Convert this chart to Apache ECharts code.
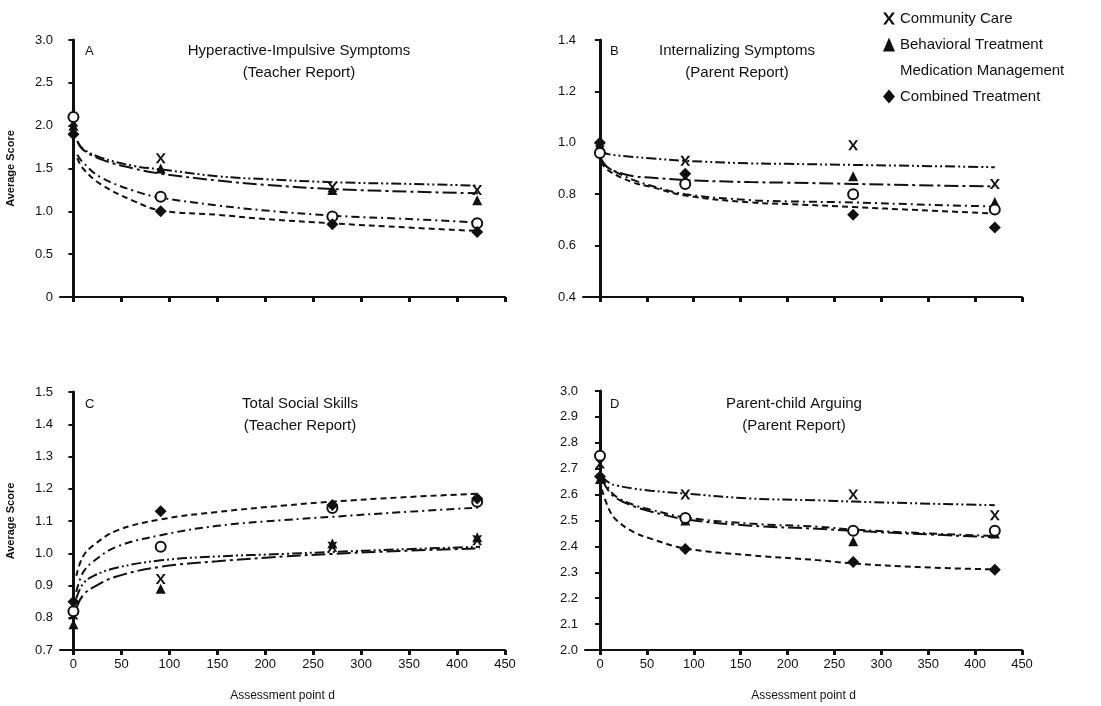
<!DOCTYPE html>
<html>
<head>
<meta charset="utf-8">
<script src="https://cdn.jsdelivr.net/npm/echarts@6/dist/echarts.min.js"></script>
<style>
    html, body { margin: 0; padding: 0; background: #fff; }
    #chart { width: 1101px; height: 706px; }
</style>
</head>
<body>
<div id="chart"></div>
<script>
// groups and assessment days
const groups = ['Community Care', 'Behavioral Treatment', 'Medication Management', 'Combined Treatment']
const days = [0, 91, 270, 421]
const xTicks = [0, 50, 100, 150, 200, 250, 300, 350, 400, 450]

// A: Hyperactive-Impulsive Symptoms (Teacher Report)
const aTicks = [0, 0.5, 1.0, 1.5, 2.0, 2.5, 3.0]
const aCC = [2.05, 1.62, 1.28, 1.25]
const aBT = [2.0, 1.5, 1.25, 1.13]
const aMM = [2.1, 1.17, 0.94, 0.86]
const aCT = [1.9, 1.0, 0.85, 0.76]
const aFitX = [4, 10, 28, 63, 91, 150, 200, 270, 350, 422]
const aFitCC = [1.82, 1.73, 1.63, 1.53, 1.49, 1.41, 1.375, 1.34, 1.32, 1.30]
const aFitBT = [1.82, 1.72, 1.61, 1.50, 1.44, 1.36, 1.31, 1.26, 1.23, 1.21]
const aFitMM = [1.66, 1.57, 1.40, 1.24, 1.16, 1.07, 1.01, 0.95, 0.91, 0.87]
const aFitCT = [1.62, 1.50, 1.32, 1.12, 1.01, 0.96, 0.91, 0.86, 0.81, 0.77]

// B: Internalizing Symptoms (Parent Report)
const bTicks = [0.4, 0.6, 0.8, 1.0, 1.2, 1.4]
const bCC = [0.97, 0.93, 0.99, 0.84]
const bBT = [0.99, 0.86, 0.87, 0.77]
const bMM = [0.96, 0.84, 0.80, 0.74]
const bCT = [1.0, 0.88, 0.72, 0.67]
const bFitX = [1, 10, 36, 53, 91, 160, 200, 270, 340, 421]
const bFitCC = [0.965, 0.955, 0.945, 0.94, 0.93, 0.92, 0.918, 0.914, 0.91, 0.905]
const bFitBT = [0.94, 0.90, 0.87, 0.865, 0.855, 0.847, 0.845, 0.84, 0.835, 0.83]
const bFitMM = [0.93, 0.90, 0.855, 0.835, 0.80, 0.777, 0.772, 0.768, 0.76, 0.752]
const bFitCT = [0.925, 0.89, 0.845, 0.83, 0.795, 0.768, 0.762, 0.75, 0.738, 0.725]

// C: Total Social Skills (Teacher Report)
const cTicks = [0.7, 0.8, 0.9, 1.0, 1.1, 1.2, 1.3, 1.4, 1.5]
const cCC = [0.81, 0.92, 1.02, 1.04]
const cBT = [0.78, 0.89, 1.03, 1.05]
const cMM = [0.82, 1.02, 1.14, 1.16]
const cCT = [0.85, 1.13, 1.15, 1.17]
const cFitX = [3, 10, 21, 45, 91, 150, 220, 270, 340, 424]
const cFitCC = [0.86, 0.905, 0.93, 0.955, 0.978, 0.99, 0.998, 1.004, 1.012, 1.02]
const cFitBT = [0.83, 0.87, 0.895, 0.928, 0.958, 0.975, 0.99, 0.998, 1.007, 1.015]
const cFitMM = [0.88, 0.94, 0.975, 1.02, 1.056, 1.085, 1.103, 1.113, 1.127, 1.142]
const cFitCT = [0.93, 0.99, 1.025, 1.07, 1.105, 1.128, 1.148, 1.16, 1.173, 1.185]

// D: Parent-child Arguing (Parent Report)
const dTicks = [2.0, 2.1, 2.2, 2.3, 2.4, 2.5, 2.6, 2.7, 2.8, 2.9, 3.0]
const dCC = [2.72, 2.60, 2.60, 2.52]
const dBT = [2.66, 2.50, 2.42, 2.45]
const dMM = [2.75, 2.51, 2.46, 2.46]
const dCT = [2.67, 2.39, 2.34, 2.31]
const dFitX = [2, 10, 18, 36, 54, 91, 160, 232, 270, 340, 421]
const dFitCC = [2.67, 2.645, 2.635, 2.623, 2.615, 2.604, 2.585, 2.578, 2.573, 2.566, 2.559]
const dFitBT = [2.66, 2.61, 2.585, 2.555, 2.535, 2.505, 2.48, 2.468, 2.46, 2.448, 2.435]
const dFitMM = [2.67, 2.62, 2.59, 2.56, 2.542, 2.512, 2.488, 2.476, 2.465, 2.452, 2.44]
const dFitCT = [2.62, 2.54, 2.50, 2.455, 2.43, 2.392, 2.366, 2.347, 2.334, 2.32, 2.311]

const xIcon = 'path://M0,0L3,0L6,4.5L9,0L12,0L7.5,6L12,12L9,12L6,7.5L3,12L0,12L4.5,6Z'
const symbols = [xIcon, 'triangle', 'emptyCircle', 'diamond']
const dashes = [[10, 3, 2, 3, 2, 3], [14, 4, 3, 4], [8, 4, 2, 4], [6, 4]]
const font = 'Liberation Sans, Arial, sans-serif'
const ink = '#111'

const panels = [
    { letter: 'A', title: 'Hyperactive-Impulsive Symptoms\n(Teacher Report)', titleX: 294, titleY: 35, letterX: 80,
      grid: { left: 60, top: 40, width: 445, height: 257 }, xMin: -14, ticks: aTicks, showX: false,
      points: [aCC, aBT, aMM, aCT], fitX: aFitX, fits: [aFitCC, aFitBT, aFitMM, aFitCT] },
    { letter: 'B', title: 'Internalizing Symptoms\n(Parent Report)', titleX: 732, titleY: 35, letterX: 605,
      grid: { left: 583, top: 40, width: 439, height: 257 }, xMin: -18, ticks: bTicks, showX: false,
      points: [bCC, bBT, bMM, bCT], fitX: bFitX, fits: [bFitCC, bFitBT, bFitMM, bFitCT] },
    { letter: 'C', title: 'Total Social Skills\n(Teacher Report)', titleX: 295, titleY: 388, letterX: 80,
      grid: { left: 60, top: 392, width: 445, height: 258 }, xMin: -14, ticks: cTicks, showX: true,
      points: [cCC, cBT, cMM, cCT], fitX: cFitX, fits: [cFitCC, cFitBT, cFitMM, cFitCT] },
    { letter: 'D', title: 'Parent-child Arguing\n(Parent Report)', titleX: 789, titleY: 388, letterX: 605,
      grid: { left: 585, top: 391, width: 437, height: 259 }, xMin: -16, ticks: dTicks, showX: true,
      points: [dCC, dBT, dMM, dCT], fitX: dFitX, fits: [dFitCC, dFitBT, dFitMM, dFitCT] }
]

function renderOptions() {
    const option = {
        animation: false,
        backgroundColor: '#fff',
        color: [ink, ink, ink, ink],
        textStyle: { fontFamily: font },
        title: [],
        grid: [],
        xAxis: [],
        yAxis: [],
        legend: {
            orient: 'vertical',
            left: 878,
            top: 6,
            itemWidth: 12,
            itemHeight: 14,
            itemGap: 11,
            selectedMode: false,
            itemStyle: { color: ink, opacity: 1 },
            textStyle: { color: ink, fontSize: 15, fontFamily: font },
            data: [
                { name: groups[0], icon: xIcon },
                { name: groups[1], icon: 'triangle' },
                { name: groups[2], icon: 'none' },
                { name: groups[3], icon: 'diamond' }
            ]
        },
        series: []
    }
    panels.forEach((p, i) => {
        option.title.push({
            text: p.title, left: p.titleX, top: p.titleY, textAlign: 'center',
            textStyle: { color: ink, fontSize: 15, fontWeight: 'normal', lineHeight: 22, fontFamily: font }
        })
        option.title.push({
            text: p.letter, left: p.letterX, top: p.titleY + 5,
            textStyle: { color: ink, fontSize: 13, fontWeight: 'normal', fontFamily: font }
        })
        option.grid.push(p.grid)
        option.xAxis.push({
            type: 'value', gridIndex: i, min: p.xMin, max: 450,
            name: p.showX ? 'Assessment point d' : '',
            nameLocation: 'middle', nameGap: 40,
            nameTextStyle: { color: ink, fontSize: 12 },
            axisLine: { onZero: false, lineStyle: { color: ink, width: 2 } },
            axisTick: { show: true, length: 5, lineStyle: { color: ink, width: 3 }, customValues: xTicks },
            axisLabel: { show: p.showX, color: ink, fontSize: 13, margin: 8, customValues: xTicks },
            splitLine: { show: false }
        })
        option.yAxis.push({
            type: 'value', gridIndex: i, min: p.ticks[0], max: p.ticks[p.ticks.length - 1],
            name: i % 2 === 0 ? 'Average Score' : '',
            nameLocation: 'middle', nameGap: 44, nameRotate: 90,
            nameTextStyle: { color: ink, fontSize: 11, fontWeight: 'bold' },
            axisLine: { show: true, lineStyle: { color: ink, width: 3 } },
            axisTick: { show: true, length: 5, lineStyle: { color: ink, width: 2 }, customValues: p.ticks },
            axisLabel: {
                color: ink, fontSize: 13, margin: 7, customValues: p.ticks,
                formatter: v => (v === 0 ? '0' : v.toFixed(1))
            },
            splitLine: { show: false }
        })
        groups.forEach((name, g) => {
            option.series.push({
                type: 'line', name, xAxisIndex: i, yAxisIndex: i,
                data: p.fitX.map((x, k) => [x, p.fits[g][k]]),
                smooth: 0.4, showSymbol: false, silent: true, z: 2,
                itemStyle: { color: ink },
                lineStyle: { color: ink, width: 2, type: dashes[g] }
            })
            option.series.push({
                type: 'scatter', name, xAxisIndex: i, yAxisIndex: i,
                data: days.map((d, k) => [d, p.points[g][k]]),
                symbol: symbols[g], symbolSize: g === 3 ? 12 : 10, z: 3,
                itemStyle: g === 2
                    ? { color: ink, borderColor: ink, borderWidth: 2, opacity: 1 }
                    : { color: ink, opacity: 1 }
            })
        })
    })
    return option
}

const myChart = echarts.init(document.getElementById('chart'))
myChart.setOption(renderOptions())
window.addEventListener('resize', () => {
    myChart && myChart.resize()
})
</script>
</body>
</html>
